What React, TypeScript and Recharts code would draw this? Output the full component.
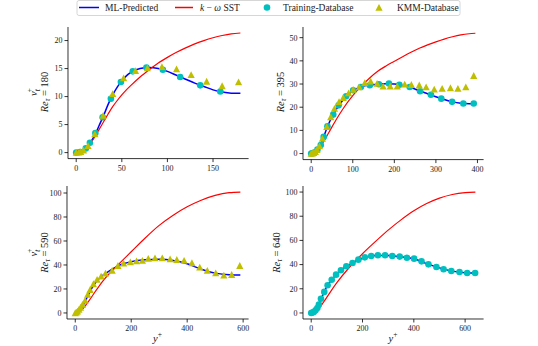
import { ComposedChart, Line, Scatter, XAxis, YAxis } from "recharts"

const BLUE = "#0000ff"
const RED = "#ff0000"
const CYAN = "#00bfbf"
const OLIVE = "#bfbf00"
const FONT = "'Liberation Serif', 'DejaVu Serif', serif"

// Re_tau = 180
const grid180 = [0, 5, 10, 15, 20, 25, 30, 35, 40, 45, 50, 55, 60, 70, 80, 90, 100, 110, 120, 130, 140, 150, 160, 170, 180]
const ml180 = [0, 0.2, 0.7, 1.7, 3.0, 4.8, 6.6, 8.6, 10.3, 11.7, 12.8, 13.7, 14.3, 15.0, 15.2, 15.0, 14.5, 13.8, 13.1, 12.4, 11.8, 11.2, 10.8, 10.6, 10.6]
const sst180 = [0, 0.15, 0.6, 1.5, 2.7, 4.1, 5.5, 6.9, 8.2, 9.3, 10.3, 11.2, 12.0, 13.5, 14.8, 16.0, 17.0, 17.9, 18.7, 19.4, 20.0, 20.5, 20.9, 21.2, 21.35]
const trainX180 = [0, 4, 10.5, 15, 21, 29, 38, 49, 62, 77, 95, 114, 136, 158]
const trainY180 = [0, 0.1, 0.75, 1.75, 3.5, 6.3, 9.6, 12.6, 14.5, 15.2, 14.8, 13.5, 12.0, 10.9]
const kmmX180 = [0, 3, 5, 8, 13, 20.5, 29.5, 40, 52, 65, 78, 94, 110, 126, 143, 160, 178]
const kmmY180 = [0, 0.05, 0.15, 0.4, 1.2, 3.3, 6.6, 10.5, 13.3, 14.6, 15.1, 15.3, 14.9, 13.9, 12.7, 11.9, 12.6]

// Re_tau = 395
const grid395 = [0, 10, 20, 30, 40, 50, 60, 70, 80, 90, 100, 120, 140, 160, 180, 200, 220, 240, 260, 280, 300, 320, 340, 360, 380, 395]
const ml395 = [0, 0.8, 2.8, 7.2, 12, 15.8, 19, 21.6, 23.9, 25.6, 27.0, 28.8, 29.6, 29.9, 30.1, 30.0, 29.4, 28.5, 27.1, 25.8, 24.5, 23.3, 22.3, 21.7, 21.5, 21.5]
const sst395 = [0, 0.6, 2.5, 5.2, 8.3, 11.5, 14.6, 17.5, 20.2, 22.7, 25.0, 29.0, 32.5, 35.5, 37.8, 39.8, 41.8, 43.7, 45.4, 46.9, 48.2, 49.4, 50.4, 51.2, 51.7, 51.9]
const trainX395 = [0, 4, 9, 15, 23, 30, 39, 53, 66, 84, 101, 119.5, 141, 163, 187, 212, 237, 262, 288, 313, 339, 366, 391]
const trainY395 = [0, 0.2, 0.6, 1.7, 3.7, 7.2, 11.8, 16.8, 20.8, 24.7, 27.3, 28.7, 29.5, 29.9, 30.2, 29.7, 28.7, 26.9, 25.4, 23.7, 22.3, 21.6, 21.6]
const kmmX395 = [0, 3, 6, 10, 14, 20, 27, 37.5, 47, 56, 67, 77, 90, 101, 115.5, 129, 143, 158.5, 173, 190, 207, 225, 241, 260, 276.5, 296, 315, 335, 353, 372, 391]
const kmmY395 = [0, 0.1, 0.3, 0.8, 1.6, 3.2, 6.5, 11.5, 15.8, 19.4, 22.3, 24.1, 26.1, 27.6, 28.7, 30.5, 31.2, 30.2, 29.0, 29.0, 29.0, 29.9, 29.7, 29.5, 28.7, 27.7, 28.0, 28.3, 28.0, 28.7, 33.6]

// Re_tau = 590
const grid590 = [0, 20, 40, 60, 80, 100, 125, 150, 175, 200, 250, 300, 350, 400, 450, 500, 550, 590]
const ml590 = [0, 3, 12, 21, 27.5, 31.5, 35.5, 38.8, 41.2, 42.8, 44.3, 44.7, 43.8, 41, 36.5, 33.2, 31.8, 31.6]
const sstGrid590 = [0, 25, 50, 75, 100, 150, 200, 250, 300, 350, 400, 450, 500, 550, 590]
const sst590 = [0, 3, 10.5, 19, 27, 39.5, 51, 62.5, 73, 81.5, 88.5, 94, 98, 100.3, 100.8]
const kmmX590 = [0, 4, 8, 13, 19, 26, 35, 44.5, 53, 65, 78, 92.5, 108, 132, 152.6, 173, 197, 219, 240, 261, 285, 311, 339, 363, 389, 417, 445, 472, 502, 531, 559, 588]
const kmmY590 = [0, 0.5, 1.4, 2.8, 4.6, 7, 10.3, 15.3, 19.4, 24.2, 27.8, 30.6, 33, 35.3, 39.4, 41.4, 42.5, 43.3, 43.6, 45.3, 45.8, 45.8, 45, 44.4, 43.6, 41.7, 38, 35.3, 33.3, 31.4, 31.9, 39.4]

// Re_tau = 640
const grid640 = [0, 10, 20, 30, 40, 50, 60, 80, 100, 125, 150, 175, 200, 250, 300, 350, 400, 450, 500, 550, 600, 640]
const ml640 = [0, 0.8, 3, 7, 12.3, 17, 21.5, 27.5, 32.2, 36.8, 40, 43, 45.3, 47.5, 47.5, 46.4, 44.9, 40.8, 37.3, 34.6, 33.3, 33.1]
const sstGrid640 = [0, 25, 50, 75, 100, 150, 200, 250, 300, 350, 400, 450, 500, 550, 600, 640]
const sst640 = [0, 2.5, 9.5, 17.5, 25, 38, 49, 59, 68.5, 77, 84.5, 90.5, 95, 98, 99.6, 100]
const trainX640 = [0, 5, 10, 17, 24, 30, 38, 51, 64, 80, 97, 116, 137, 161, 184, 209, 234, 260, 288, 316, 345, 373, 401, 430, 457, 488, 516, 546, 578, 608, 639]
const trainY640 = [0, 0.3, 0.8, 2.2, 4.1, 6.9, 11.8, 17.4, 22.9, 27.5, 31.7, 35.3, 38.6, 41.3, 44.1, 46, 47.1, 47.7, 47.7, 47.1, 46.6, 45.7, 44.9, 42.7, 40.2, 38, 36.1, 34.7, 33.9, 33.1, 33.1]

const pts = (xs: number[], ys: number[]) => xs.map((x, i) => ({ x, y: ys[i] }))

const Dot = (p: any) => <circle cx={p.cx} cy={p.cy} r={3.3} fill={CYAN} />
const Tri = (p: any) => (
  <polygon
    points={`${p.cx},${p.cy - 3.6} ${p.cx - 3.6},${p.cy + 3.2} ${p.cx + 3.6},${p.cy + 3.2}`}
    fill={OLIVE}
  />
)

interface PanelProps {
  left: number
  top: number
  width: number
  height: number
  xDomain: [number, number]
  xTicks: number[]
  yDomain: [number, number]
  yTicks: number[]
  ml: { x: number; y: number }[]
  sst: { x: number; y: number }[]
  train?: { x: number; y: number }[]
  kmm?: { x: number; y: number }[]
}

function Panel({ left, top, width, height, xDomain, xTicks, yDomain, yTicks, ml, sst, train, kmm }: PanelProps) {
  const yw = 40
  const xh = 24
  const mt = 4
  const mr = 4
  const tick = { fontSize: 8, fontFamily: FONT, fill: "#222" }
  return (
    <div style={{ position: "absolute", left: left - yw, top: top - mt }}>
      <ComposedChart width={yw + width + mr} height={mt + height + xh} margin={{ top: mt, right: mr, bottom: 0, left: 0 }}>
        <XAxis
          type="number"
          dataKey="x"
          domain={xDomain}
          ticks={xTicks}
          allowDataOverflow
          height={xh}
          stroke="#000"
          strokeWidth={0.8}
          tickSize={3.5}
          tickMargin={3}
          tick={tick}
        />
        <YAxis
          type="number"
          dataKey="y"
          domain={yDomain}
          ticks={yTicks}
          allowDataOverflow
          width={yw}
          stroke="#000"
          strokeWidth={0.8}
          tickSize={3.5}
          tickMargin={2}
          tick={tick}
        />
        <Line data={ml} dataKey="y" type="monotone" stroke={BLUE} strokeWidth={1.5} dot={false} isAnimationActive={false} />
        <Line data={sst} dataKey="y" type="monotone" stroke={RED} strokeWidth={1.2} dot={false} isAnimationActive={false} />
        {train && <Scatter data={train} dataKey="y" shape={Dot} isAnimationActive={false} />}
        {kmm && <Scatter data={kmm} dataKey="y" shape={Tri} isAnimationActive={false} />}
      </ComposedChart>
    </div>
  )
}

function ReLabel({ x, y, re }: { x: number; y: number; re: string }) {
  return (
    <text transform={`translate(${x},${y}) rotate(-90)`} textAnchor="middle" fontSize={10.5} fontFamily={FONT} fill="#111">
      <tspan fontStyle="italic">Re</tspan>
      <tspan fontStyle="italic" fontSize={7.5} dy={2}>τ</tspan>
      <tspan dy={-2}>{` = ${re}`}</tspan>
    </text>
  )
}

function NuLabel({ x, y }: { x: number; y: number }) {
  return (
    <text transform={`translate(${x},${y}) rotate(-90)`} textAnchor="middle" fontSize={10.5} fontFamily={FONT} fill="#111">
      <tspan fontStyle="italic">ν</tspan>
      <tspan fontStyle="italic" fontSize={7.5} dy={2.5}>t</tspan>
      <tspan fontSize={7.5} dx={-3} dy={-7.5}>+</tspan>
    </text>
  )
}

function YPlus({ x, y }: { x: number; y: number }) {
  return (
    <text x={x} y={y} textAnchor="middle" fontSize={10.5} fontFamily={FONT} fill="#111">
      <tspan fontStyle="italic">y</tspan>
      <tspan fontSize={7.5} dy={-4.5}>+</tspan>
    </text>
  )
}

function Overlay() {
  const lf = { fontSize: 9.5, fontFamily: FONT, fill: "#222" }
  return (
    <svg width={538} height={346} style={{ position: "absolute", left: 0, top: 0, pointerEvents: "none" }}>
      <rect x={77} y={0.5} width={383} height={15} rx={2} fill="#fff" stroke="#ccc" strokeWidth={0.8} />
      <line x1={79} x2={99} y1={7.5} y2={7.5} stroke={BLUE} strokeWidth={1.5} />
      <text x={105} y={10.8} {...lf}>ML-Predicted</text>
      <line x1={175} x2={193} y1={7.5} y2={7.5} stroke={RED} strokeWidth={1.5} />
      <text x={200} y={10.8} {...lf}>
        <tspan fontStyle="italic">k</tspan> − <tspan fontStyle="italic">ω</tspan> SST
      </text>
      <circle cx={267} cy={7.5} r={3.3} fill={CYAN} />
      <text x={283} y={10.8} {...lf}>Training-Database</text>
      <polygon points="379,3.9 375.4,10.7 382.6,10.7" fill={OLIVE} />
      <text x={397} y={10.8} {...lf}>KMM-Database</text>

      <NuLabel x={37} y={92} />
      <ReLabel x={47.5} y={92} re="180" />
      <ReLabel x={283.5} y={92} re="395" />
      <NuLabel x={37} y={252.5} />
      <ReLabel x={47.5} y={252.5} re="590" />
      <ReLabel x={279.5} y={252.5} re="640" />
      <YPlus x={157.5} y={341.5} />
      <YPlus x={393} y={341.5} />
    </svg>
  )
}

export default function App() {
  return (
    <div style={{ position: "fixed", left: 0, top: 0, width: 538, height: 346, background: "#fff" }}>
      <Panel
        left={67.7}
        top={26.7}
        width={180.6}
        height={131.6}
        xDomain={[-9, 189]}
        xTicks={[0, 50, 100, 150]}
        yDomain={[-1.07, 22.42]}
        yTicks={[0, 5, 10, 15, 20]}
        ml={pts(grid180, ml180)}
        sst={pts(grid180, sst180)}
        train={pts(trainX180, trainY180)}
        kmm={pts(kmmX180, kmmY180)}
      />
      <Panel
        left={302.7}
        top={26.7}
        width={180.6}
        height={132.6}
        xDomain={[-19.75, 414.75]}
        xTicks={[0, 100, 200, 300, 400]}
        yDomain={[-2.6, 54.6]}
        yTicks={[0, 10, 20, 30, 40, 50]}
        ml={pts(grid395, ml395)}
        sst={pts(grid395, sst395)}
        train={pts(trainX395, trainY395)}
        kmm={pts(kmmX395, kmmY395)}
      />
      <Panel
        left={66.7}
        top={186}
        width={181.6}
        height={133}
        xDomain={[-29.5, 619.5]}
        xTicks={[0, 200, 400, 600]}
        yDomain={[-5.04, 105.84]}
        yTicks={[0, 20, 40, 60, 80, 100]}
        ml={pts(grid590, ml590)}
        sst={pts(sstGrid590, sst590)}
        kmm={pts(kmmX590, kmmY590)}
      />
      <Panel
        left={302.7}
        top={186}
        width={180.6}
        height={133}
        xDomain={[-32, 672]}
        xTicks={[0, 200, 400, 600]}
        yDomain={[-5, 105]}
        yTicks={[0, 20, 40, 60, 80, 100]}
        ml={pts(grid640, ml640)}
        sst={pts(sstGrid640, sst640)}
        train={pts(trainX640, trainY640)}
      />
      <Overlay />
    </div>
  )
}
